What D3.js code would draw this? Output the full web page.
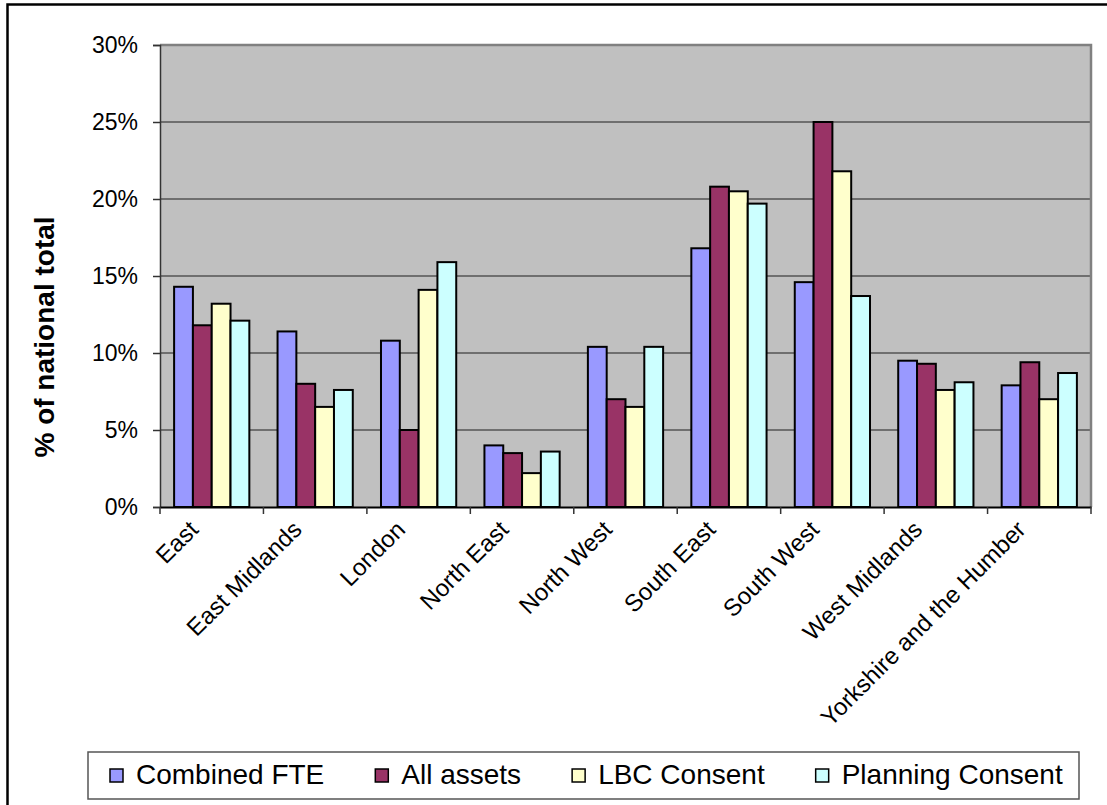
<!DOCTYPE html>
<html>
<head>
<meta charset="utf-8">
<script src="https://cdn.jsdelivr.net/npm/d3@7"></script>
<style>
  body { margin: 0; background: #fff; }
  text { font-family: "Liberation Sans", Arial, sans-serif; }
</style>
</head>
<body>
<svg id="chart"></svg>
<script>
// Chart data
var regions = ["East", "East Midlands", "London", "North East", "North West",
  "South East", "South West", "West Midlands", "Yorkshire and the Humber"];
var seriesNames = ["Combined FTE", "All assets", "LBC Consent", "Planning Consent"];
var combinedFTE = [14.3, 11.4, 10.8, 4.0, 10.4, 16.8, 14.6, 9.5, 7.9];
var allAssets = [11.8, 8.0, 5.0, 3.5, 7.0, 20.8, 25.0, 9.3, 9.4];
var lbcConsent = [13.2, 6.5, 14.1, 2.2, 6.5, 20.5, 21.8, 7.6, 7.0];
var planningConsent = [12.1, 7.6, 15.9, 3.6, 10.4, 19.7, 13.7, 8.1, 8.7];
var yTicks = [0, 5, 10, 15, 20, 25, 30];
var colors = ["#9999FF", "#993366", "#FFFFCC", "#CCFFFF"];

var seriesValues = [combinedFTE, allAssets, lbcConsent, planningConsent];

var svgWidth = 1107;
var svgHeight = 805;
var margin = { top: 45, right: 16, bottom: 298, left: 160 };
var chartWidth = svgWidth - margin.left - margin.right;
var chartHeight = svgHeight - margin.top - margin.bottom;

var svg = d3.select("#chart")
  .attr("width", svgWidth)
  .attr("height", svgHeight);

// outer chart border (only top and left are inside the picture)
svg.append("rect")
  .attr("x", 7.5).attr("y", 4.5)
  .attr("width", svgWidth + 20).attr("height", svgHeight + 20)
  .attr("fill", "none").attr("stroke", "#000").attr("stroke-width", 2.5);

var chart = svg.append("g")
  .attr("transform", "translate(" + margin.left + "," + margin.top + ")");

var xScale = d3.scaleBand()
  .domain(regions)
  .range([0, chartWidth]);

// Excel-style gap width 150%: 4 bars + 1.5 bar gap per band
var barWidth = xScale.bandwidth() / 5.5;
var xInner = d3.scaleBand()
  .domain(seriesNames)
  .range([barWidth * 0.75, barWidth * 4.75]);

var yScale = d3.scaleLinear()
  .domain([0, 30])
  .range([chartHeight, 0]);

// plot background
chart.append("rect")
  .attr("width", chartWidth)
  .attr("height", chartHeight)
  .attr("fill", "#C0C0C0");

// gridlines
chart.selectAll(".grid")
  .data(yTicks.filter(function (d) { return d > 0 && d < 30; }))
  .enter()
  .append("line")
  .attr("class", "grid")
  .attr("x1", 0).attr("x2", chartWidth)
  .attr("y1", function (d) { return yScale(d); })
  .attr("y2", function (d) { return yScale(d); })
  .attr("stroke", "#555")
  .attr("stroke-width", 1.5);

// plot area border top and right
chart.append("path")
  .attr("d", "M0,0H" + chartWidth + "V" + chartHeight)
  .attr("fill", "none")
  .attr("stroke", "#808080")
  .attr("stroke-width", 2.5);

// bars
var groups = chart.selectAll(".region")
  .data(regions)
  .enter()
  .append("g")
  .attr("class", "region")
  .attr("transform", function (d) { return "translate(" + xScale(d) + ",0)"; });

groups.selectAll(".bar")
  .data(function (d, i) {
    return seriesNames.map(function (s, j) {
      return { series: s, value: seriesValues[j][i], idx: j };
    });
  })
  .enter()
  .append("rect")
  .attr("class", "bar")
  .attr("x", function (d) { return xInner(d.series); })
  .attr("y", function (d) { return yScale(d.value); })
  .attr("width", xInner.bandwidth())
  .attr("height", function (d) { return chartHeight - yScale(d.value); })
  .attr("fill", function (d) { return colors[d.idx]; })
  .attr("stroke", "#000")
  .attr("stroke-width", 2);

// y axis
var yAxis = chart.append("g")
  .attr("class", "axis")
  .call(d3.axisLeft(yScale)
    .tickValues(yTicks)
    .tickSize(7)
    .tickPadding(15)
    .tickFormat(function (d) { return d + "%"; }));
yAxis.selectAll("path, line").attr("stroke", "#333").attr("stroke-width", 1.5);
yAxis.selectAll("text")
  .style("font-size", "23px")
  .attr("fill", "#000");

// x axis
var xAxis = chart.append("g")
  .attr("class", "axis")
  .attr("transform", "translate(0," + chartHeight + ")")
  .call(d3.axisBottom(xScale).tickSize(0).tickFormat(""));
xAxis.select(".domain").attr("stroke", "#000").attr("stroke-width", 2);

// category dividers as tick marks
chart.selectAll(".xtick")
  .data(d3.range(regions.length + 1))
  .enter()
  .append("line")
  .attr("class", "xtick")
  .attr("x1", function (d) { return d * xScale.step(); })
  .attr("x2", function (d) { return d * xScale.step(); })
  .attr("y1", chartHeight)
  .attr("y2", chartHeight + 7)
  .attr("stroke", "#333")
  .attr("stroke-width", 1.5);

// rotated category labels
chart.selectAll(".xlabel")
  .data(regions)
  .enter()
  .append("text")
  .attr("class", "xlabel")
  .attr("transform", function (d) {
    return "translate(" + (xScale(d) + xScale.bandwidth() / 2 - 12) + "," + (chartHeight + 24) + ") rotate(-45)";
  })
  .attr("text-anchor", "end")
  .style("font-size", "24px")
  .text(function (d) { return d; });

// y axis title
svg.append("text")
  .attr("transform", "translate(44,337) rotate(-90)")
  .attr("text-anchor", "middle")
  .attr("dy", "0.35em")
  .style("font-size", "28px")
  .style("font-weight", "bold")
  .text("% of national total");

// legend
var legend = svg.append("g").attr("transform", "translate(88,752)");
legend.append("rect")
  .attr("width", 991)
  .attr("height", 47)
  .attr("fill", "#fff")
  .attr("stroke", "#555")
  .attr("stroke-width", 1.5);

var items = legend.selectAll(".legend-item")
  .data(seriesNames)
  .enter()
  .append("g")
  .attr("class", "legend-item");

items.append("rect")
  .attr("x", 0).attr("y", 17)
  .attr("width", 13).attr("height", 13)
  .attr("fill", function (d, i) { return colors[i]; })
  .attr("stroke", "#000")
  .attr("stroke-width", 1.5);

items.append("text")
  .attr("x", 26)
  .attr("y", 32)
  .style("font-size", "28px")
  .text(function (d) { return d; });

// lay the legend items out one after another
var legendCursor = 22;
items.each(function () {
  var g = d3.select(this);
  g.attr("transform", "translate(" + legendCursor + ",0)");
  legendCursor += 26 + g.select("text").node().getComputedTextLength() + 51;
});
</script>
</body>
</html>
